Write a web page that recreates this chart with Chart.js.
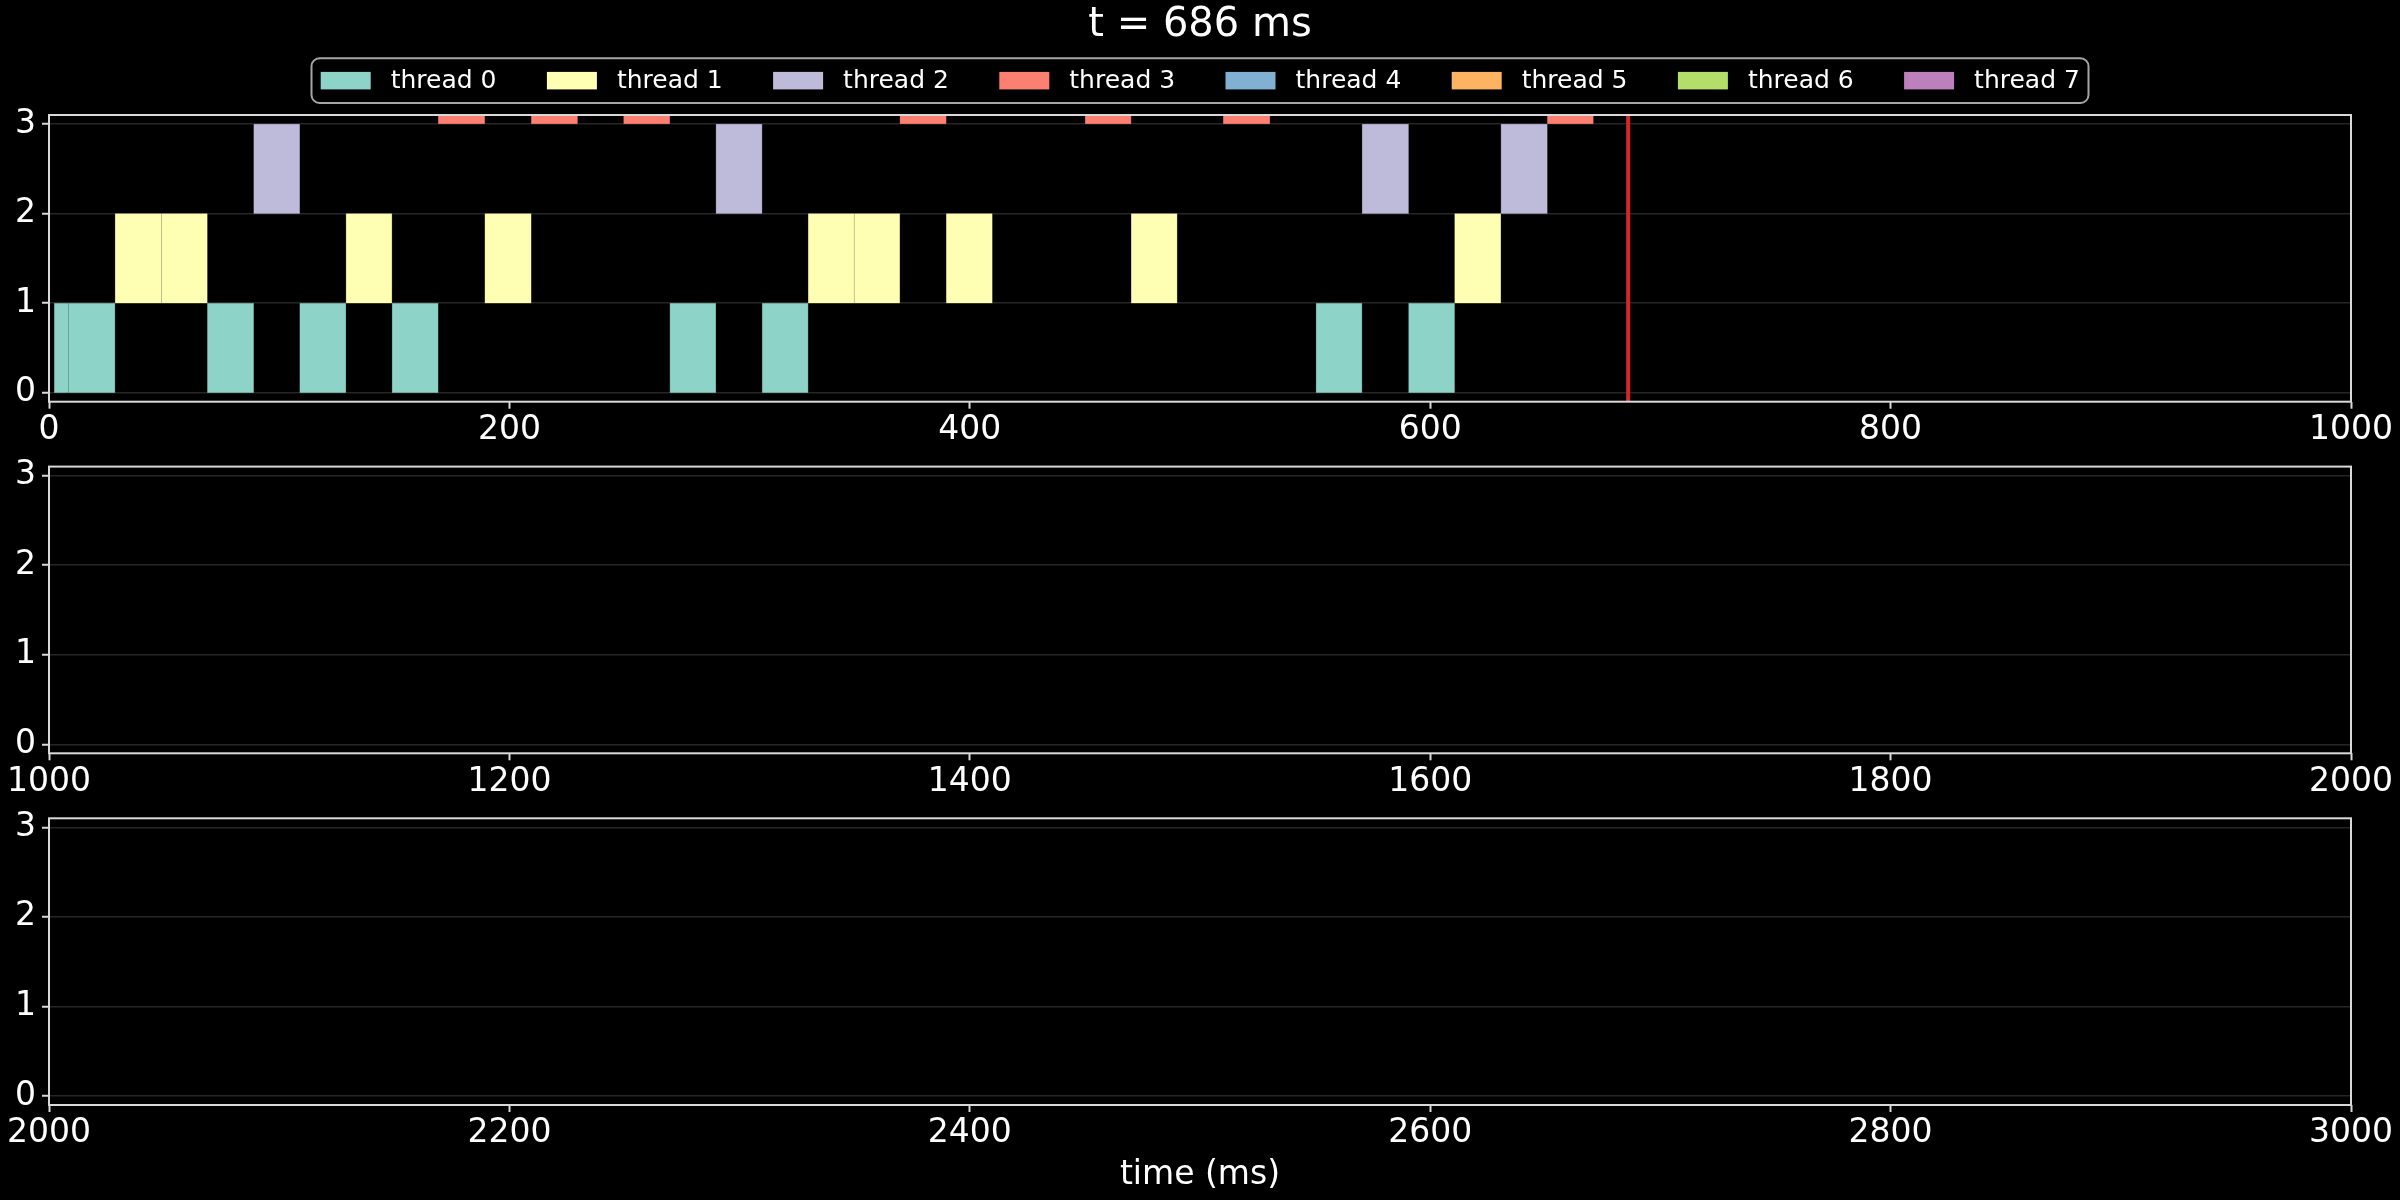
<!DOCTYPE html>
<html>
<head>
<meta charset="utf-8">
<script src="https://cdn.jsdelivr.net/npm/chart.js@4.4.1/dist/chart.umd.min.js"></script>
<style>
  html, body { margin: 0; padding: 0; background: #000; }
  #wrap { position: relative; width: 2400px; height: 1200px; background: #000; }
  canvas { position: absolute; left: 0; top: 0; }
</style>
</head>
<body>
<div id="wrap">
  <canvas id="p0" width="2400" height="1200"></canvas>
  <canvas id="p1" width="2400" height="1200"></canvas>
  <canvas id="p2" width="2400" height="1200"></canvas>
</div>
<script>
// ---------------- data ----------------
const threadNames = ['thread 0', 'thread 1', 'thread 2', 'thread 3', 'thread 4', 'thread 5', 'thread 6', 'thread 7'];
const threadColors = ['#8dd3c7', '#ffffb3', '#bebada', '#fb8072', '#80b1d3', '#fdb462', '#b3de69', '#bc80bd'];
const threadRows = [0, 1, 2, 3, 4, 5, 6, 7];

// [start ms, end ms] of each running slice
const thread0Spans = [[2.3, 8.4], [8.4, 28.7], [68.8, 88.9], [108.9, 129.0], [149.0, 169.1], [269.7, 289.7], [309.8, 329.8], [550.4, 570.4], [590.6, 610.6]];
const thread1Spans = [[28.7, 48.8], [48.8, 68.8], [129.0, 149.0], [189.3, 209.5], [329.8, 349.8], [349.8, 369.6], [389.8, 409.8], [470.1, 490.1], [610.6, 630.7]];
const thread2Spans = [[88.9, 108.9], [289.7, 309.8], [570.4, 590.6], [630.7, 650.9]];
const thread3Spans = [[169.1, 189.3], [209.5, 229.6], [249.6, 269.7], [369.6, 389.8], [450.1, 470.1], [510.1, 530.4], [650.9, 670.9]];
const thread4Spans = [];
const thread5Spans = [];
const thread6Spans = [];
const thread7Spans = [];
const threadSpans = [thread0Spans, thread1Spans, thread2Spans, thread3Spans, thread4Spans, thread5Spans, thread6Spans, thread7Spans];

const panelXMin = [0, 1000, 2000];
const panelXMax = [1000, 2000, 3000];
const xTickStep = 200;
const yTickValues = [0, 1, 2, 3];
const yMin = -0.1;
const yMax = 3.1;
const currentTimeMs = 686;
const xAxisTitle = 'time (ms)';

// ---------------- style ----------------
const FONT = 'DejaVu Sans';
const SPINE = '#d9d9d9';
const GRID = '#262626';

function shade(hex, f) {
  const n = parseInt(hex.slice(1), 16);
  const r = Math.round(((n >> 16) & 255) * f), g = Math.round(((n >> 8) & 255) * f), b = Math.round((n & 255) * f);
  return `rgb(${r},${g},${b})`;
}

const spinePlugin = {
  id: 'spines',
  afterDraw(chart) {
    const { ctx, chartArea: a } = chart;
    ctx.save();
    ctx.strokeStyle = SPINE;
    ctx.lineWidth = 2;
    ctx.strokeRect(a.left, a.top, a.right - a.left, a.bottom - a.top);
    ctx.restore();
  }
};

const boxLegendPlugin = {
  id: 'boxLegend',
  afterDraw(chart, args, opts) {
    if (!opts.show) return;
    const ctx = chart.ctx;
    const items = chart.data.datasets.filter(d => d.type === 'bar');
    const fontSize = 25;
    const handleW = 50, handleH = 17.5, textPad = 20, colStep = 226.2;
    const frameW = 1777, frameTop = 58.3, frameH = 44.7;
    const cx = chart.width / 2;
    const frameLeft = cx - frameW / 2;
    ctx.save();
    ctx.beginPath();
    if (ctx.roundRect) ctx.roundRect(frameLeft, frameTop, frameW, frameH, 8);
    else ctx.rect(frameLeft, frameTop, frameW, frameH);
    ctx.fillStyle = '#000';
    ctx.fill();
    ctx.strokeStyle = '#a6a6a6';
    ctx.lineWidth = 2;
    ctx.stroke();
    ctx.font = `${fontSize}px "${FONT}"`;
    ctx.textBaseline = 'middle';
    ctx.textAlign = 'left';
    const cy = frameTop + frameH / 2;
    items.forEach((d, i) => {
      const x = frameLeft + 9.2 + i * colStep;
      ctx.fillStyle = d.backgroundColor;
      ctx.fillRect(x, cy - handleH / 2, handleW, handleH);
      ctx.fillStyle = '#ffffff';
      ctx.fillText(d.label, x + handleW + textPad, cy + 1);
    });
    ctx.restore();
  }
};

function makeDatasets() {
  const ds = threadNames.map((name, i) => ({
    type: 'bar',
    label: name,
    data: threadSpans[i].map(s => ({ x: [s[0], s[1]], y: threadRows[i] + 0.5 })),
    backgroundColor: threadColors[i],
    borderColor: shade(threadColors[i], 0.6),
    borderWidth: 0.6,
    borderSkipped: false,
    grouped: false,
    barPercentage: 1,
    categoryPercentage: 1,
    clip: 0,
    order: 1
  }));
  ds.push({
    type: 'line',
    label: 'now',
    data: [{ x: currentTimeMs, y: yMin }, { x: currentTimeMs, y: yMax }],
    borderColor: '#d62728',
    borderWidth: 4,
    pointRadius: 0,
    fill: false,
    clip: 0,
    order: 0
  });
  return ds;
}

function xTicksFor(p) {
  const t = [];
  for (let v = panelXMin[p]; v <= panelXMax[p]; v += xTickStep) t.push({ value: v });
  return t;
}

const panelLayout = [
  { padTop: 0, padBottom: 1200 - 401.7 - 40, xHeight: 40 },
  { padTop: 466.6, padBottom: 1200 - 753.3 - 40, xHeight: 40 },
  { padTop: 818.3, padBottom: 0, xHeight: 1200 - 1105 }
];

function makePanel(p) {
  const L = panelLayout[p];
  const isFirst = p === 0, isLast = p === 2;
  return new Chart(document.getElementById('p' + p), {
    type: 'bar',
    data: { datasets: makeDatasets() },
    options: {
      responsive: false,
      animation: false,
      devicePixelRatio: 1,
      indexAxis: 'y',
      layout: { padding: { top: L.padTop, bottom: L.padBottom, left: 0, right: 0 } },
      events: [],
      plugins: {
        legend: { display: false },
        tooltip: { enabled: false },
        title: {
          display: isFirst,
          text: `t = ${currentTimeMs} ms`,
          color: '#ffffff',
          font: { family: FONT, size: 40, weight: 'normal', lineHeight: 1.1 },
          padding: { top: 4, bottom: 115 - 48 }
        },
        boxLegend: { show: isFirst }
      },
      scales: {
        x: {
          type: 'linear',
          min: panelXMin[p],
          max: panelXMax[p],
          offset: false,
          afterBuildTicks: s => { s.ticks = xTicksFor(p); },
          afterFit: s => { s.height = L.xHeight; },
          ticks: {
            color: '#ffffff',
            font: { family: FONT, size: 33 },
            padding: 2,
            maxRotation: 0,
            autoSkip: false,
            callback: v => String(v)
          },
          grid: { drawOnChartArea: false, drawTicks: true, tickLength: 7, tickColor: SPINE, tickWidth: 2, offset: false },
          border: { display: false },
          title: {
            display: isLast,
            text: xAxisTitle,
            color: '#ffffff',
            font: { family: FONT, size: 33 },
            padding: { top: 0, bottom: 5 }
          }
        },
        y: {
          type: 'linear',
          position: 'left',
          min: yMin,
          max: yMax,
          offset: false,
          afterBuildTicks: s => { s.ticks = yTickValues.map(v => ({ value: v })); },
          afterFit: s => { s.width = 49; },
          ticks: {
            color: '#ffffff',
            font: { family: FONT, size: 33 },
            padding: 6,
            autoSkip: false,
            callback: v => String(v)
          },
          grid: { color: GRID, lineWidth: 1.5, drawTicks: true, tickLength: 7, tickColor: SPINE, tickWidth: 2, offset: false },
          border: { display: false }
        },
        yRightMargin: {
          type: 'linear',
          position: 'right',
          min: yMin,
          max: yMax,
          afterFit: s => { s.width = 49; },
          ticks: { display: false },
          grid: { display: false, drawTicks: false },
          border: { display: false }
        }
      }
    },
    plugins: [spinePlugin, boxLegendPlugin]
  });
}

[0, 1, 2].forEach(makePanel);
</script>
</body>
</html>
